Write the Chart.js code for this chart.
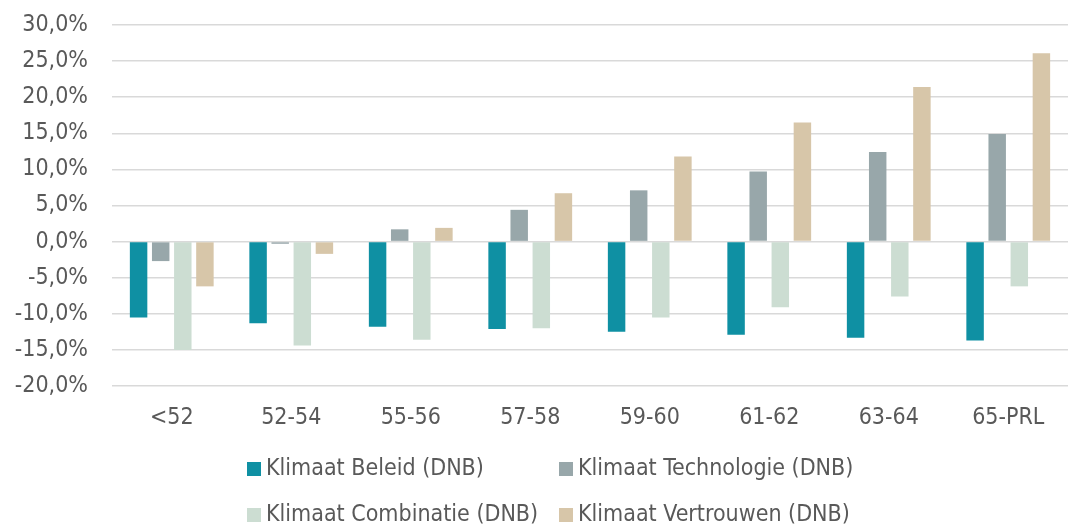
<!DOCTYPE html>
<html>
<head>
<meta charset="utf-8">
<script src="https://cdn.jsdelivr.net/npm/chart.js@4"></script>
<style>
  html, body { margin: 0; padding: 0; background: #ffffff; }
  #wrap { width: 1068px; height: 526px; }
</style>
</head>
<body>
<div id="wrap"><canvas id="c" width="1068" height="526"></canvas></div>
<script>
// Age groups along the x-axis
const categories = ['<52', '52-54', '55-56', '57-58', '59-60', '61-62', '63-64', '65-PRL'];

// Series names
const seriesNames = [
  'Klimaat Beleid (DNB)',
  'Klimaat Technologie (DNB)',
  'Klimaat Combinatie (DNB)',
  'Klimaat Vertrouwen (DNB)'
];

// Values per series, in percent
const beleid      = [-10.5, -11.3, -11.8, -12.1, -12.5, -12.9, -13.3, -13.7];
const technologie = [-2.7, -0.3, 1.7, 4.4, 7.1, 9.7, 12.4, 14.9];
const combinatie  = [-15.0, -14.4, -13.6, -12.0, -10.5, -9.1, -7.6, -6.2];
const vertrouwen  = [-6.2, -1.7, 1.9, 6.7, 11.8, 16.5, 21.4, 26.1];

// Y-axis range and step
const yMin = -20;
const yMax = 30;
const yStep = 5;

const colors = ['#0f90a3', '#98a7aa', '#ccddd2', '#d7c6a9'];
const seriesValues = [beleid, technologie, combinatie, vertrouwen];

const FONT = "'DejaVu Sans Condensed', 'DejaVu Sans', sans-serif";
const TEXT = '#595959';

// Two-column legend below the axis
const gridLegend = {
  id: 'gridLegend',
  afterDraw(chart, args, opts) {
    const ctx = chart.ctx;
    ctx.save();
    ctx.font = `${opts.size}px ${FONT}`;
    ctx.textBaseline = 'middle';
    ctx.textAlign = 'left';
    chart.data.datasets.forEach((ds, i) => {
      const col = i % 2;
      const row = Math.floor(i / 2);
      const x = opts.left + col * opts.colWidth;
      const y = opts.rows[row];
      ctx.fillStyle = ds.backgroundColor;
      ctx.fillRect(x, y - opts.box / 2, opts.box, opts.box);
      ctx.fillStyle = TEXT;
      ctx.fillText(ds.label, x + opts.box + opts.gap, y);
    });
    ctx.restore();
  }
};

new Chart(document.getElementById('c'), {
  type: 'bar',
  data: {
    labels: categories,
    datasets: seriesNames.map((name, i) => ({
      label: name,
      data: seriesValues[i],
      backgroundColor: colors[i],
      borderWidth: 0,
      categoryPercentage: 0.74,
      barPercentage: 0.79
    }))
  },
  options: {
    responsive: false,
    devicePixelRatio: 1,
    animation: false,
    layout: { padding: { left: 0, right: 0, top: 25, bottom: 0 } },
    plugins: {
      legend: { display: false },
      tooltip: { enabled: false },
      gridLegend: { left: 247, colWidth: 312, rows: [469, 515], box: 14, gap: 5, size: 23 }
    },
    scales: {
      x: {
        grid: { display: false, drawTicks: false },
        border: { display: false },
        ticks: { color: TEXT, font: { family: FONT, size: 23 }, padding: 18, maxRotation: 0 },
        afterFit(s) { s.height = 140; s.paddingLeft = 0; s.paddingRight = 0; }
      },
      y: {
        min: yMin,
        max: yMax,
        ticks: {
          stepSize: yStep,
          color: TEXT,
          font: { family: FONT, size: 23 },
          padding: 24,
          callback: v => v.toFixed(1).replace('.', ',') + '%'
        },
        grid: { color: '#d9d9d9', lineWidth: 1.5, drawTicks: false },
        border: { display: false },
        afterFit(s) { s.width = 112; s.paddingTop = 0; s.paddingBottom = 0; }
      }
    }
  },
  plugins: [gridLegend]
});
</script>
</body>
</html>
